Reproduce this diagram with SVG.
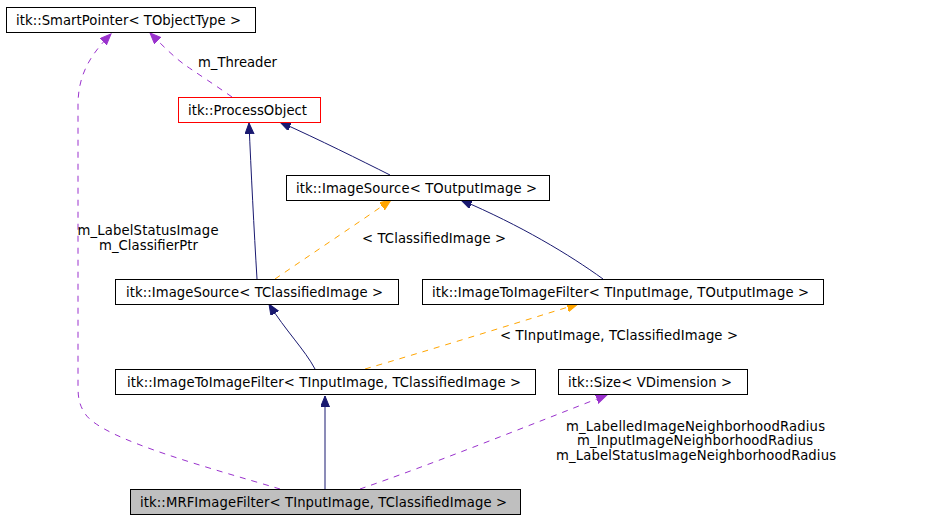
<svg xmlns="http://www.w3.org/2000/svg" width="939" height="520" viewBox="0 0 939 520">
<style>
text{font-family:"DejaVu Sans","Liberation Sans",sans-serif;font-size:13.2px;fill:#000}
.n rect{fill:#fff;stroke:#000;stroke-width:1}
.c{text-anchor:middle}
.inh{fill:none;stroke:#191970;stroke-width:1}
.use{fill:none;stroke:#9a32cd;stroke-width:1;stroke-dasharray:6,6}
.tpl{fill:none;stroke:#ffa500;stroke-width:1;stroke-dasharray:6,6}
</style>
<defs>
<marker id="aN" markerUnits="userSpaceOnUse" markerWidth="12" markerHeight="10" refX="11" refY="4.5" orient="auto"><path d="M0,0 L11,4.5 L0,9 z" fill="#191970" stroke="#191970" stroke-dasharray="none"/></marker>
<marker id="aP" markerUnits="userSpaceOnUse" markerWidth="12" markerHeight="10" refX="11" refY="4.5" orient="auto"><path d="M0,0 L11,4.5 L0,9 z" fill="#9a32cd" stroke="#9a32cd" stroke-dasharray="none"/></marker>
<marker id="aO" markerUnits="userSpaceOnUse" markerWidth="12" markerHeight="10" refX="11" refY="4.5" orient="auto"><path d="M0,0 L11,4.5 L0,9 z" fill="#ffa500" stroke="#ffa500" stroke-dasharray="none"/></marker>
</defs>
<rect width="939" height="520" fill="#fff"/>
<g id="connectors">
<path class="use" d="M280,489 C210,468 105,440 86,415 C79,405 78,398 78,385 L78,105 C78,75 90,55 111,34" marker-end="url(#aP)"/>
<path class="use" d="M232,97 C215,85 195,72 185,65 C175,58 162,45 150,33" marker-end="url(#aP)"/>
<path class="inh" d="M390,175 C360,160 320,140 280,122" marker-end="url(#aN)"/>
<path class="inh" d="M257,279 C254,230 251,170 249,123" marker-end="url(#aN)"/>
<path class="tpl" d="M275,279 C310,255 355,225 391,200" marker-end="url(#aO)"/>
<path class="inh" d="M603,279 C570,255 520,225 461,200" marker-end="url(#aN)"/>
<path class="inh" d="M315,369 C305,350 285,330 269,304" marker-end="url(#aN)"/>
<path class="tpl" d="M365,369 C430,350 510,325 578,304" marker-end="url(#aO)"/>
<path class="inh" d="M325,489 L325,396" marker-end="url(#aN)"/>
<path class="use" d="M360,489 C430,465 530,425 607,395" marker-end="url(#aP)"/>
</g>
<g id="edge-labels">
<text x="237.5" y="67" class="c" textLength="79" lengthAdjust="spacing">m_Threader</text>
<text x="148" y="235" class="c" textLength="141" lengthAdjust="spacing">m_LabelStatusImage</text>
<text x="148.5" y="250" class="c" textLength="99" lengthAdjust="spacing">m_ClassifierPtr</text>
<text x="434" y="243" class="c" textLength="144" lengthAdjust="spacing">&lt; TClassifiedImage &gt;</text>
<text x="619" y="340" class="c" textLength="238" lengthAdjust="spacing">&lt; TInputImage, TClassifiedImage &gt;</text>
<text x="695.5" y="431" class="c" textLength="259" lengthAdjust="spacing">m_LabelledImageNeighborhoodRadius</text>
<text x="695" y="445" class="c" textLength="236" lengthAdjust="spacing">m_InputImageNeighborhoodRadius</text>
<text x="696" y="460" class="c" textLength="280" lengthAdjust="spacing">m_LabelStatusImageNeighborhoodRadius</text>
</g>
<g id="smartpointer" class="n"><rect x="6.5" y="7.5" width="249" height="25"/><text x="128.5" y="24.5" class="c" textLength="225" lengthAdjust="spacing">itk::SmartPointer&lt; TObjectType &gt;</text></g>
<g id="processobject" class="n"><rect x="178.5" y="97.5" width="142" height="25" style="stroke:#ff0000"/><text x="247.5" y="114.5" class="c" textLength="119" lengthAdjust="spacing">itk::ProcessObject</text></g>
<g id="imagesource-output" class="n"><rect x="286.5" y="175.5" width="263" height="25"/><text x="416.5" y="192.5" class="c" textLength="241" lengthAdjust="spacing">itk::ImageSource&lt; TOutputImage &gt;</text></g>
<g id="imagesource-classified" class="n"><rect x="115.5" y="279.5" width="283" height="25"/><text x="254.5" y="296.5" class="c" textLength="257" lengthAdjust="spacing">itk::ImageSource&lt; TClassifiedImage &gt;</text></g>
<g id="i2i-output" class="n"><rect x="422.5" y="279.5" width="401" height="25"/><text x="620.5" y="296.5" class="c" textLength="377" lengthAdjust="spacing">itk::ImageToImageFilter&lt; TInputImage, TOutputImage &gt;</text></g>
<g id="i2i-classified" class="n"><rect x="115.5" y="369.5" width="420" height="25"/><text x="324" y="386.5" class="c" textLength="394" lengthAdjust="spacing">itk::ImageToImageFilter&lt; TInputImage, TClassifiedImage &gt;</text></g>
<g id="size" class="n"><rect x="558.5" y="369.5" width="189" height="25"/><text x="650" y="386.5" class="c" textLength="164" lengthAdjust="spacing">itk::Size&lt; VDimension &gt;</text></g>
<g id="mrf" class="n"><rect x="130.5" y="489.5" width="390" height="25" style="fill:#bfbfbf"/><text x="323.5" y="506.5" class="c" textLength="367" lengthAdjust="spacing">itk::MRFImageFilter&lt; TInputImage, TClassifiedImage &gt;</text></g>
</svg>
